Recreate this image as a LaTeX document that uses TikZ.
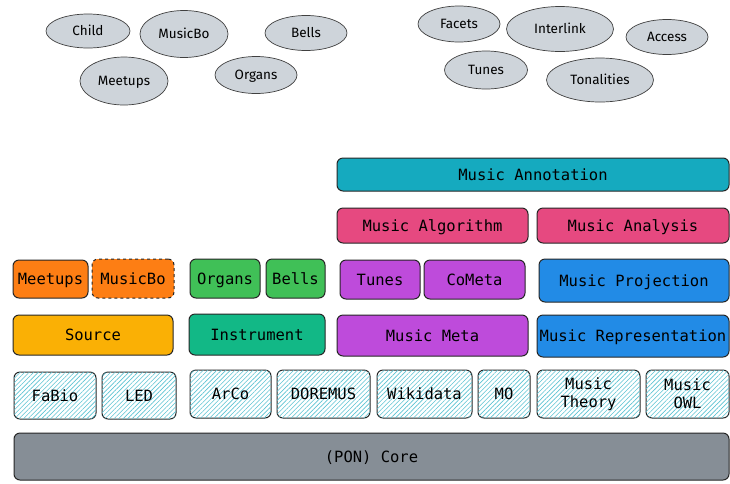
\documentclass[tikz,border=0pt]{standalone}
\usepackage{fontspec}
\setmonofont{DejaVu Sans Mono}
\newfontfamily\handfont{Fira Sans}
\usetikzlibrary{patterns.meta,shapes.geometric}
\definecolor{cEll}{HTML}{CED4DA}
\definecolor{cAnn}{HTML}{15AABF}
\definecolor{cPink}{HTML}{E64980}
\definecolor{cPurp}{HTML}{BE4BDB}
\definecolor{cBlue}{HTML}{228BE6}
\definecolor{cOrng}{HTML}{FD7E14}
\definecolor{cGrn}{HTML}{40C057}
\definecolor{cYel}{HTML}{FAB005}
\definecolor{cTeal}{HTML}{12B886}
\definecolor{cCore}{HTML}{868E96}
\definecolor{cHatch}{HTML}{5CC3D3}
\begin{document}
\begin{tikzpicture}[x=1pt,y=1pt,
  ell/.style={ellipse, draw=black!75, line width=0.7pt, fill=cEll, inner sep=0pt, text height=10.5pt, text depth=1.2pt, font=\handfont\fontsize{13.5}{15}\selectfont},
  box/.style={rectangle, rounded corners=6pt, draw=black!85, line width=1pt, inner sep=1pt, text height=13pt, text depth=1.8pt, font=\ttfamily\fontsize{15.5}{17}\selectfont, align=center},
  hatchbox/.style={box, fill=white, postaction={pattern={Lines[angle=45,distance=3.2pt,line width=0.6pt]}, pattern color=cHatch}},
  twoline/.style={text height=, text depth=, font=\ttfamily\fontsize{15.5}{18}\selectfont}]
\useasboundingbox (0,0) rectangle (730,-483);
% ellipses
\node[ell, minimum width=84pt, minimum height=34pt] (eChild) at (88,-31) {Child};
\node[ell, minimum width=88pt, minimum height=47pt] (eMusicBo) at (184,-34) {MusicBo};
\node[ell, minimum width=82pt, minimum height=35pt] (eBells) at (306,-33) {Bells};
\node[ell, minimum width=88pt, minimum height=48pt] (eMeetups) at (124,-81) {Meetups};
\node[ell, minimum width=82pt, minimum height=37pt] (eOrgans) at (256,-75) {Organs};
\node[ell, minimum width=82pt, minimum height=36pt] (eFacets) at (459,-24) {Facets};
\node[ell, minimum width=107pt, minimum height=45pt] (eInterlink) at (560,-29) {Interlink};
\node[ell, minimum width=82pt, minimum height=35pt] (eAccess) at (667,-37) {Access};
\node[ell, minimum width=83pt, minimum height=38pt] (eTunes) at (486,-70) {Tunes};
\node[ell, minimum width=107pt, minimum height=44pt] (eTonal) at (600,-80) {Tonalities};
% upper boxes
\node[box, fill=cAnn, minimum width=392pt, minimum height=33pt] (annot) at (533,-174.5) {Music Annotation};
\node[box, fill=cPink, minimum width=191pt, minimum height=35pt] (algo) at (432.5,-225.5) {Music Algorithm};
\node[box, fill=cPink, minimum width=192pt, minimum height=35pt] (anal) at (633,-225.5) {Music Analysis};
\node[box, fill=cPurp, minimum width=80pt, minimum height=39pt] (tunes) at (380,-279.5) {Tunes};
\node[box, fill=cPurp, minimum width=101pt, minimum height=39pt] (cometa) at (474.5,-279.5) {CoMeta};
\node[box, fill=cBlue, minimum width=190pt, minimum height=43pt] (proj) at (634,-280.5) {Music Projection};
\node[box, fill=cPurp, minimum width=191pt, minimum height=41pt] (meta) at (432.5,-335.5) {Music Meta};
\node[box, fill=cBlue, minimum width=192pt, minimum height=42pt] (repr) at (633,-336) {Music Representation};
\node[box, fill=cOrng, minimum width=75pt, minimum height=38pt] (meetups) at (50.5,-279) {Meetups};
\node[box, fill=cOrng, dashed, minimum width=82pt, minimum height=39pt] (musicbo) at (133,-278.5) {MusicBo};
\node[box, fill=cGrn, minimum width=70pt, minimum height=39pt] (organs) at (225,-278.5) {Organs};
\node[box, fill=cGrn, minimum width=59pt, minimum height=39pt] (bells) at (295.5,-278.5) {Bells};
\node[box, fill=cYel, minimum width=160pt, minimum height=40pt] (source) at (93,-335) {Source};
\node[box, fill=cTeal, minimum width=136pt, minimum height=41pt] (instr) at (257,-334.5) {Instrument};
% hatched row
\node[hatchbox, minimum width=82pt, minimum height=47pt] (fabio) at (55,-395.5) {FaBio};
\node[hatchbox, minimum width=74pt, minimum height=47pt] (led) at (139,-395.5) {LED};
\node[hatchbox, minimum width=81pt, minimum height=48pt] (arco) at (230.5,-394) {ArCo};
\node[hatchbox, minimum width=93pt, minimum height=48pt] (doremus) at (323.5,-394) {DOREMUS};
\node[hatchbox, minimum width=95pt, minimum height=48pt] (wiki) at (424.5,-394) {Wikidata};
\node[hatchbox, minimum width=52pt, minimum height=48pt] (mo) at (504,-394) {MO};
\node[hatchbox, twoline, minimum width=103pt, minimum height=48pt] (theory) at (588.5,-394) {Music\\Theory};
\node[hatchbox, twoline, minimum width=83pt, minimum height=48pt] (owl) at (687.5,-394) {Music\\OWL};
% core
\node[box, fill=cCore, minimum width=715pt, minimum height=47pt] (core) at (371.5,-456.5) {(PON) Core};
\end{tikzpicture}
\end{document}
